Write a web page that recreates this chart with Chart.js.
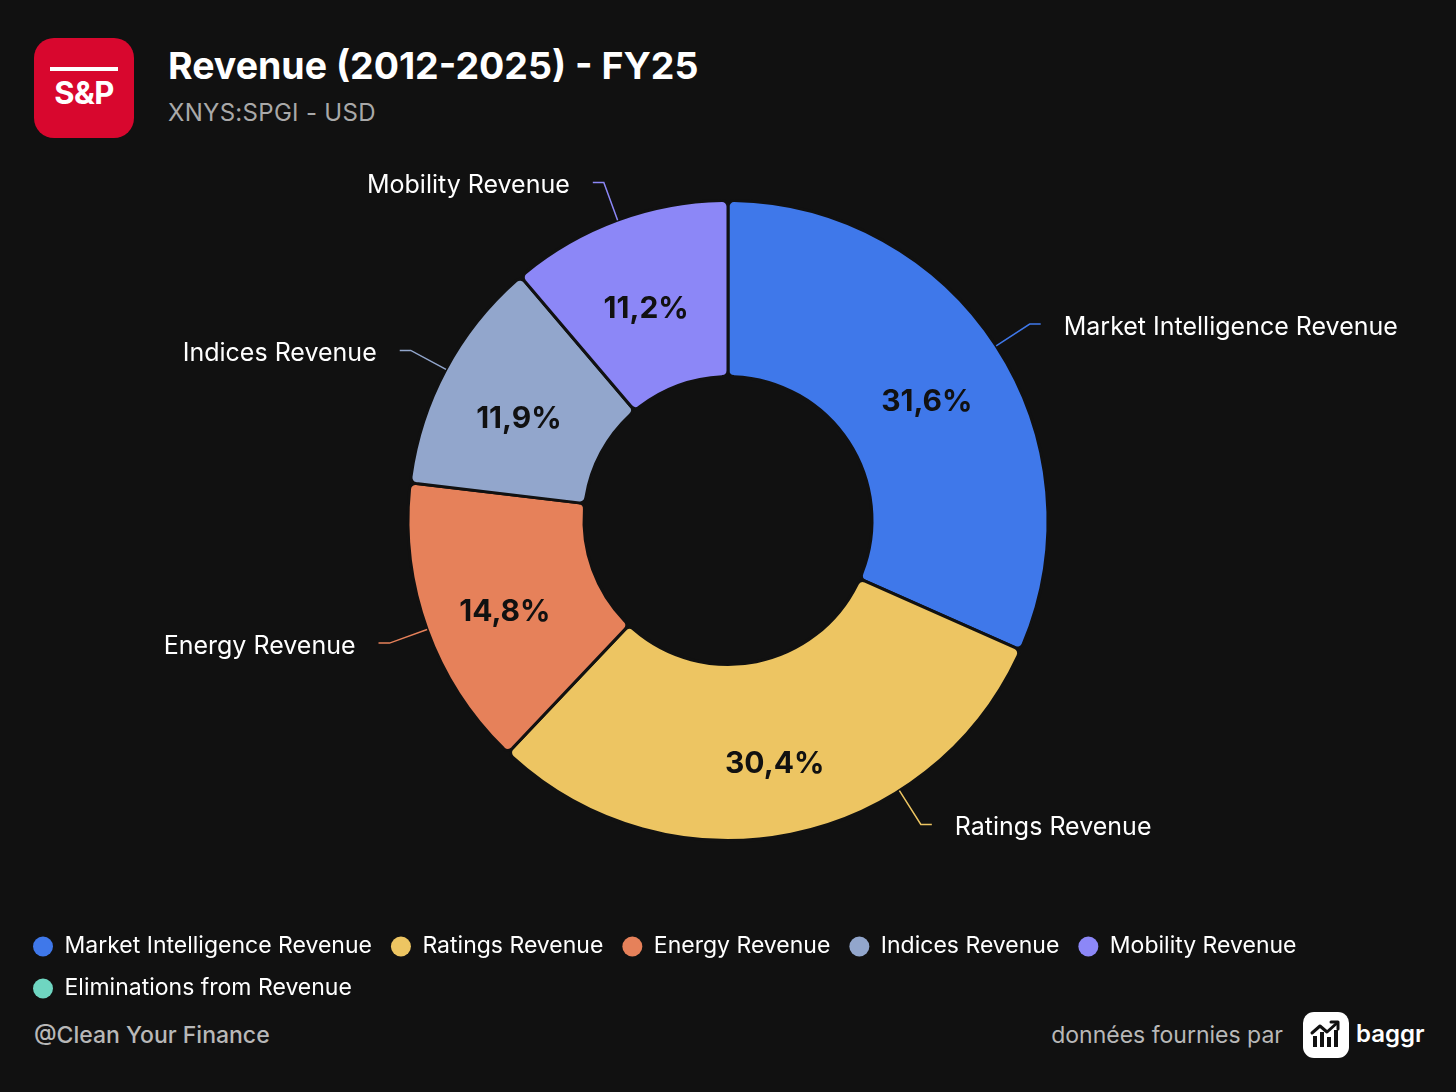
<!DOCTYPE html>
<html lang="fr">
<head>
<meta charset="UTF-8">
<title>S&amp;P Global - Revenue FY25</title>
<script src="https://cdn.jsdelivr.net/npm/chart.js"></script>
<style>
  html, body { margin: 0; padding: 0; background: #111111; }
  body { width: 1456px; height: 1092px; position: relative; overflow: hidden;
         font-family: Inter, "Noto Sans", sans-serif; color: #fff; }
  #chartWrap { position: absolute; left: 0; top: 0; width: 1456px; height: 1010px; }
  .logo { position: absolute; left: 34px; top: 38px; width: 100px; height: 100px;
          border-radius: 20px; background: #d8072e; }
  .logo .bar { position: absolute; left: 16px; top: 29px; width: 68px; height: 4px; background: #fff; }
  .logo .txt { position: absolute; left: 0; width: 100px; top: 38px; text-align: center;
               font-weight: 700; font-size: 31px; line-height: 34px; letter-spacing: -0.5px; }
  .title { position: absolute; left: 168px; top: 46px; font-size: 37.5px; font-weight: 700;
           line-height: 40px; white-space: nowrap; }
  .sub { position: absolute; left: 168px; top: 99px; font-size: 24px; line-height: 28px;
         color: #a9a9a9; white-space: nowrap; letter-spacing: 0.3px; }
  .credit { position: absolute; left: 34px; top: 1021px; font-size: 23px; font-weight: 500;
            line-height: 28px; color: #b8b8b8; }
  .source { position: absolute; right: 173px; top: 1021px; font-size: 23px; line-height: 28px;
            color: #b8b8b8; }
  .baggr-icon { position: absolute; left: 1303px; top: 1012px; width: 46px; height: 46px;
                border-radius: 11px; background: #fff; }
  .baggr { position: absolute; left: 1356px; top: 1019px; font-size: 24px; font-weight: 600;
           line-height: 30px; color: #fff; }
</style>
</head>
<body>
  <div class="logo"><div class="bar"></div><div class="txt">S&amp;P</div></div>
  <div class="title">Revenue (2012-2025) - FY25</div>
  <div class="sub">XNYS:SPGI - USD</div>

  <div id="chartWrap"><canvas id="revenueChart" width="1456" height="1010"></canvas></div>

  <div class="credit">@Clean Your Finance</div>
  <div class="source">données fournies par</div>
  <div class="baggr-icon">
    <svg width="46" height="46" viewBox="0 0 46 46">
      <rect x="10" y="24" width="4" height="11" fill="#111"/>
      <rect x="17" y="20" width="4" height="15" fill="#111"/>
      <rect x="24" y="25" width="4" height="10" fill="#111"/>
      <rect x="31" y="18" width="4" height="17" fill="#111"/>
      <polyline points="9,21 17,14 24,20 34,11" fill="none" stroke="#111" stroke-width="3"
                stroke-linejoin="round" stroke-linecap="round"/>
      <polyline points="28,10 35,10 35,17" fill="none" stroke="#111" stroke-width="3"
                stroke-linejoin="round" stroke-linecap="round"/>
    </svg>
  </div>
  <div class="baggr">baggr</div>

<script>
// segments, clockwise from 12 o'clock (share of FY25 revenue, %)
const segments = [
  "Market Intelligence Revenue",
  "Ratings Revenue",
  "Energy Revenue",
  "Indices Revenue",
  "Mobility Revenue",
  "Eliminations from Revenue"
];
// eliminations are negative, so they get no slice
const shares = [31.6, 30.4, 14.8, 11.9, 11.2, 0];
const colors = ["#3f78ea", "#edc562", "#e6815a", "#92a6cc", "#8c87f7", "#6fd6c1"];

const fontFamily = "Inter, 'Noto Sans', sans-serif";
const total = shares.reduce((a, b) => a + b, 0);
const fmtPct = v => (v / total * 100).toFixed(1).replace(".", ",") + "%";

// outside labels with leader lines + percentages inside the ring
const sliceLabels = {
  id: "sliceLabels",
  afterDatasetsDraw(chart) {
    const ctx = chart.ctx;
    const meta = chart.getDatasetMeta(0);
    meta.data.forEach((arc, i) => {
      const v = shares[i];
      if (!v) return;
      const p = arc.getProps(["x", "y", "startAngle", "endAngle", "innerRadius", "outerRadius"], true);
      const mid = (p.startAngle + p.endAngle) / 2;

      // percentage in the ring
      const rIn = p.innerRadius + (p.outerRadius - p.innerRadius) * 0.53;
      ctx.save();
      ctx.font = "700 30px " + fontFamily;
      ctx.fillStyle = "#111111";
      ctx.textAlign = "center";
      ctx.textBaseline = "middle";
      ctx.fillText(fmtPct(v), p.x + Math.cos(mid) * rIn, p.y + Math.sin(mid) * rIn + 11);

      // leader line
      const rElbow = p.outerRadius + 40;
      const maxY = p.y + p.outerRadius * 0.95;
      let a = mid;
      if (p.y + Math.sin(a) * rElbow > maxY) {
        a = Math.asin((maxY - p.y) / rElbow);
        if (Math.cos(mid) < 0) a = Math.PI - a;
      }
      const right = Math.cos(a) >= 0;
      const ax = p.x + Math.cos(a) * p.outerRadius, ay = p.y + Math.sin(a) * p.outerRadius;
      const ex = p.x + Math.cos(a) * rElbow, ey = p.y + Math.sin(a) * rElbow;
      const hx = ex + (right ? 11 : -11);
      ctx.strokeStyle = colors[i];
      ctx.lineWidth = 1.5;
      ctx.beginPath();
      ctx.moveTo(ax, ay);
      ctx.lineTo(ex, ey);
      ctx.lineTo(hx, ey);
      ctx.stroke();

      ctx.font = "400 25px " + fontFamily;
      ctx.fillStyle = "#ffffff";
      ctx.textAlign = right ? "left" : "right";
      ctx.fillText(segments[i], hx + (right ? 23 : -23), ey + 3);
      ctx.restore();
    });
  }
};

new Chart(document.getElementById("revenueChart"), {
  type: "doughnut",
  data: {
    labels: segments,
    datasets: [{
      data: shares,
      backgroundColor: colors,
      borderColor: "#111111",
      borderWidth: 3,
      borderRadius: 6,
      hoverOffset: 0
    }]
  },
  options: {
    responsive: false,
    animation: false,
    cutout: "45%",
    layout: { padding: { top: 199, left: 14, right: 14, bottom: 0 } },
    plugins: {
      tooltip: { enabled: false },
      legend: {
        position: "bottom",
        align: "start",
        title: { display: true, text: "", font: { size: 10 }, padding: { top: 62, bottom: 0 } },
        labels: {
          color: "#ffffff",
          font: { family: fontFamily, size: 23 },
          usePointStyle: true,
          pointStyle: "circle",
          boxHeight: 14,
          pointStyleWidth: 20,
          padding: 19,
          generateLabels: chart => segments.map((s, i) => ({
            text: s,
            fillStyle: colors[i],
            strokeStyle: colors[i],
            lineWidth: 0,
            pointStyle: "circle",
            fontColor: "#ffffff",
            hidden: false,
            index: i
          }))
        }
      }
    }
  },
  plugins: [sliceLabels]
});
</script>
</body>
</html>
